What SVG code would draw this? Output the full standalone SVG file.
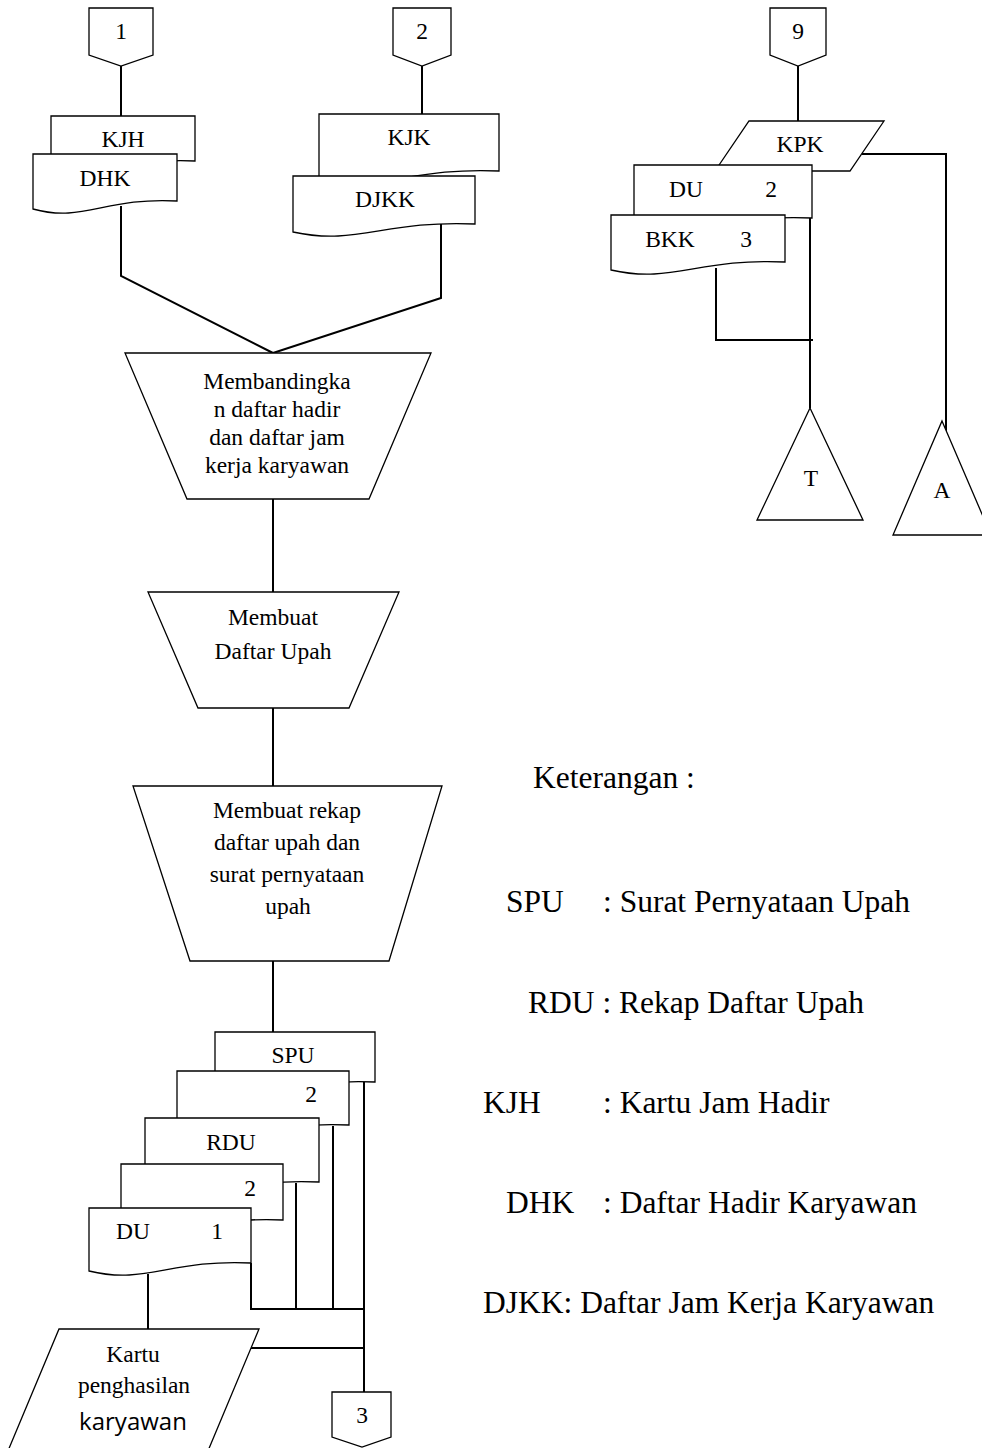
<svg xmlns="http://www.w3.org/2000/svg" width="982" height="1448" viewBox="0 0 982 1448">
<style>
.s{fill:#fff;stroke:#000;stroke-width:1.3;stroke-linejoin:miter}
.c{fill:none;stroke:#000;stroke-width:2}
.t{font-family:"Liberation Serif","Times New Roman",serif;font-size:23.5px;fill:#000;text-anchor:middle}
.l{font-family:"Liberation Serif","Times New Roman",serif;font-size:31.5px;fill:#000}
.k{font-family:"Open Sans","Noto Sans",sans-serif;font-size:24px;fill:#000;text-anchor:middle}
</style>
<rect width="982" height="1448" fill="#fff"/>
<g id="connectors">
<polyline class="c" points="121,66 121,116"/>
<polyline class="c" points="422,66 422,114"/>
<polyline class="c" points="121,206 121,276 273,353"/>
<polyline class="c" points="441,224 441,298 273,353"/>
<polyline class="c" points="273,499 273,592"/>
<polyline class="c" points="273,708 273,786"/>
<polyline class="c" points="273,961 273,1032"/>
<polyline class="c" points="364,1082 364,1392"/>
<polyline class="c" points="333,1126 333,1309"/>
<polyline class="c" points="296,1183 296,1309"/>
<polyline class="c" points="251,1263 251,1309 364,1309"/>
<polyline class="c" points="251,1348 364,1348"/>
<polyline class="c" points="148,1274 148,1329"/>
<polyline class="c" points="798,66 798,121"/>
<polyline class="c" points="862,154 946,154 946,433"/>
<polyline class="c" points="810,218 810,408"/>
<polyline class="c" points="716,268 716,340 813,340"/>
</g>
<g id="n-conn1"><path class="s" d="M89,8 H153 V55 L121,66 L89,55 Z"/><text class="t" x="121" y="39">1</text></g>
<g id="n-conn2"><path class="s" d="M393,8 H451 V55 L422,66 L393,55 Z"/><text class="t" x="422" y="39">2</text></g>
<g id="n-conn9"><path class="s" d="M770,8 H826 V55 L798,66 L770,55 Z"/><text class="t" x="798" y="39">9</text></g>
<g id="n-kjh"><path class="s" d="M51,116 H195 V161 C123,157 101,183 51,169 Z"/><text class="t" x="123" y="147">KJH</text></g>
<g id="n-dhk"><path class="s" d="M33,154 H177 V201 C105,197 83,223 33,209 Z"/><text class="t" x="105" y="186">DHK</text></g>
<g id="n-kjk"><path class="s" d="M319,114 H499 V171 C409,167 382,193 319,179 Z"/><text class="t" x="409" y="145">KJK</text></g>
<g id="n-djkk"><path class="s" d="M293,176 H475 V224 C384,220 357,246 293,232 Z"/><text class="t" x="385" y="207">DJKK</text></g>
<g id="n-proc1"><path class="s" d="M125,353 H431 L369,499 H187 Z"/>
<text class="t" x="277" y="389">Membandingka</text>
<text class="t" x="277" y="417">n daftar hadir</text>
<text class="t" x="277" y="445">dan daftar jam</text>
<text class="t" x="277" y="473">kerja karyawan</text></g>
<g id="n-proc2"><path class="s" d="M148,592 H399 L349,708 H198 Z"/>
<text class="t" x="273" y="625">Membuat</text>
<text class="t" x="273" y="659">Daftar Upah</text></g>
<g id="n-proc3"><path class="s" d="M133,786 H442 L389,961 H190 Z"/>
<text class="t" x="287" y="818">Membuat rekap</text>
<text class="t" x="287" y="850">daftar upah dan</text>
<text class="t" x="287" y="882">surat pernyataan</text>
<text class="t" x="288" y="914">upah</text></g>
<g id="n-spu"><path class="s" d="M215,1032 H375 V1082 C295,1078 271,1104 215,1090 Z"/><text class="t" x="293" y="1063">SPU</text></g>
<g id="n-spu2"><path class="s" d="M177,1071 H349 V1125 C263,1121 237,1147 177,1133 Z"/><text class="t" x="311" y="1102">2</text></g>
<g id="n-rdu"><path class="s" d="M145,1118 H319 V1182 C232,1178 206,1204 145,1190 Z"/><text class="t" x="231" y="1150">RDU</text></g>
<g id="n-rdu2"><path class="s" d="M121,1164 H283 V1220 C202,1216 178,1242 121,1228 Z"/><text class="t" x="250" y="1196">2</text></g>
<g id="n-du1"><path class="s" d="M89,1208 H251 V1263 C170,1259 146,1285 89,1271 Z"/><text class="t" x="133" y="1239">DU</text><text class="t" x="217" y="1239">1</text></g>
<g id="n-kartu"><path class="s" d="M59,1329 H259 L205,1458 H5 Z"/>
<text class="t" x="133" y="1362">Kartu</text>
<text class="t" x="134" y="1393">penghasilan</text>
<text class="k" x="133" y="1430">karyawan</text></g>
<g id="n-conn3"><path class="s" d="M332,1392 H391 V1437 L362,1447 L332,1437 Z"/><text class="t" x="362" y="1423">3</text></g>
<g id="n-kpk"><path class="s" d="M749,121 H884 L850,171 H715 Z"/><text class="t" x="800" y="152">KPK</text></g>
<g id="n-du2"><path class="s" d="M634,165 H812 V218 C723,214 696,240 634,226 Z"/><text class="t" x="686" y="197">DU</text><text class="t" x="771" y="197">2</text></g>
<g id="n-bkk"><path class="s" d="M611,215 H785 V262 C698,258 672,284 611,270 Z"/><text class="t" x="670" y="247">BKK</text><text class="t" x="746" y="247">3</text></g>
<g id="n-t"><path class="s" d="M810,408 L863,520 H757 Z"/><text class="t" x="811" y="486">T</text></g>
<g id="n-a"><path class="s" d="M942,421 L991,535 H893 Z"/><text class="t" x="942" y="498">A</text></g>
<g id="legend">
<text class="l" x="533" y="788">Keterangan :</text>
<text class="l" x="506" y="912">SPU</text><text class="l" x="603" y="912">: Surat Pernyataan Upah</text>
<text class="l" x="528" y="1013">RDU : Rekap Daftar Upah</text>
<text class="l" x="483" y="1113">KJH</text><text class="l" x="603" y="1113">: Kartu Jam Hadir</text>
<text class="l" x="506" y="1213">DHK</text><text class="l" x="603" y="1213">: Daftar Hadir Karyawan</text>
<text class="l" x="483" y="1313">DJKK: Daftar Jam Kerja Karyawan</text>
</g>
</svg>
